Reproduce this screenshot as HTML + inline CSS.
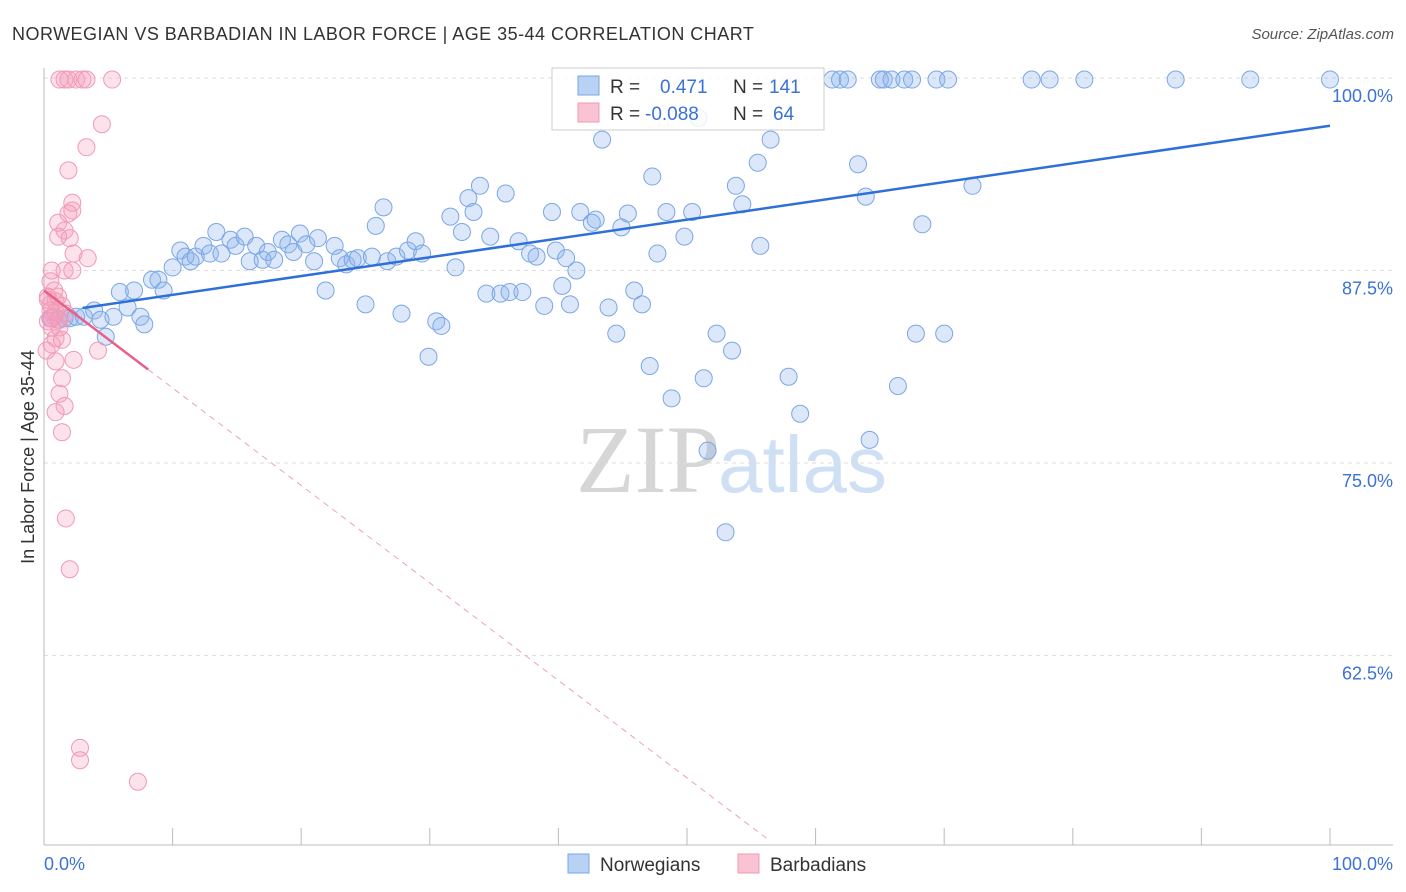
<!DOCTYPE html>
<html><head><meta charset="utf-8"><style>
body{margin:0;background:#fff;font-family:"Liberation Sans",sans-serif;}
#c{position:relative;width:1406px;height:892px;overflow:hidden;}
</style></head><body>
<div id="c">
<svg id="s" width="1406" height="892" xmlns="http://www.w3.org/2000/svg">
<text x="12" y="40" font-size="18" fill="#333" letter-spacing="0.47">NORWEGIAN VS BARBADIAN IN LABOR FORCE | AGE 35-44 CORRELATION CHART</text>
<text x="1394" y="39" font-size="15" fill="#555" font-style="italic" text-anchor="end">Source: ZipAtlas.com</text>
<text x="720" y="492" font-size="96" fill="#d6d6d6" text-anchor="end" font-family="Liberation Serif,serif">ZIP</text>
<text x="718" y="492" font-size="80" fill="#cfe0f4">atlas</text>
<text transform="translate(34,457) rotate(-90)" font-size="18" fill="#333" text-anchor="middle">In Labor Force | Age 35-44</text>
<g id="grid"></g><g id="ticks"></g><g id="marks"></g><g id="trend"></g>
<rect x="552" y="68" width="272" height="62" fill="#fff" fill-opacity="0.85" stroke="#ccc"/>
<rect x="578" y="76" width="21" height="19" fill="#b8d2f4" stroke="#7aa6e6"/>
<rect x="578" y="103" width="21" height="19" fill="#f9c3d3" stroke="#f09ab4"/>
<text x="610" y="93" font-size="19" fill="#333">R = <tspan x="660" fill="#3a72d6">0.471</tspan><tspan x="733">N = </tspan><tspan x="769" fill="#3a72d6">141</tspan></text>
<text x="610" y="120" font-size="19" fill="#333">R = <tspan x="645" fill="#3a72d6">-0.088</tspan><tspan x="733">N = </tspan><tspan x="773" fill="#3a72d6">64</tspan></text>
<rect x="568" y="854" width="21" height="19" fill="#b8d2f4" stroke="#7aa6e6"/>
<text x="600" y="871" font-size="19" fill="#333">Norwegians</text>
<rect x="738" y="854" width="21" height="19" fill="#f9c3d3" stroke="#f09ab4"/>
<text x="770" y="871" font-size="19" fill="#333">Barbadians</text>
</svg></div>
<script>
const blueX=[0.5,1.1,1.6,2.0,2.5,3.1,3.9,4.4,4.8,5.4,5.9,6.5,7.0,7.5,7.8,8.4,8.9,9.3,10.0,10.6,11.0,11.4,11.8,12.4,12.9,13.4,13.8,14.5,14.9,15.6,16.0,16.5,17.0,17.4,17.9,18.5,19.0,19.4,19.9,20.4,21.3,21.0,21.9,22.6,23.0,23.5,24.0,24.4,25.0,25.5,25.8,26.4,26.7,27.4,27.8,28.3,28.9,29.4,29.9,30.5,30.9,31.6,32.0,32.5,33.0,33.4,33.9,34.4,34.7,35.5,35.9,36.2,37.2,36.9,37.8,38.3,38.9,39.5,39.8,40.3,40.6,40.9,41.4,41.7,42.6,42.9,43.4,43.9,44.5,44.9,45.4,45.9,46.5,47.1,47.3,47.7,48.4,48.8,49.8,50.4,50.9,51.3,51.6,52.3,53.0,53.5,53.8,54.3,55.5,55.7,56.5,57.9,58.8,61.3,61.9,62.5,63.3,63.9,64.2,65.0,65.3,65.9,66.4,66.9,67.5,67.8,68.3,69.4,70.0,70.3,72.2,76.8,78.2,80.9,88.0,93.8,100];
const blueY=[84.4,84.3,84.4,84.4,84.5,84.5,84.9,84.3,83.2,84.5,86.1,85.1,86.2,84.5,84.0,86.9,86.9,86.2,87.7,88.8,88.4,88.1,88.4,89.1,88.6,90.0,88.6,89.5,89.1,89.7,88.1,89.1,88.2,88.7,88.2,89.5,89.2,88.7,89.9,89.2,89.6,88.1,86.2,89.1,88.3,87.9,88.2,88.3,85.3,88.4,90.4,91.6,88.1,88.4,84.7,88.8,89.4,88.6,81.9,84.2,83.9,91.0,87.7,90.0,92.2,91.3,93.0,86.0,89.7,86.0,92.5,86.1,86.1,89.4,88.6,88.4,85.2,91.3,88.8,86.5,88.3,85.3,87.5,91.3,90.6,90.8,96.0,85.1,83.4,90.3,91.2,86.2,85.3,81.3,93.6,88.6,91.3,79.2,89.7,91.3,97.4,80.5,75.8,83.4,70.5,82.3,93.0,91.8,94.5,89.1,96.0,80.6,78.2,99.9,99.9,99.9,94.4,92.3,76.5,99.9,99.9,99.9,80.0,99.9,99.9,83.4,90.5,99.9,83.4,99.9,93.0,99.9,99.9,99.9,99.9,99.9,99.9];
const pinkX=[1.2,1.6,1.9,2.5,3.0,3.3,5.3,4.5,3.3,1.9,2.2,2.2,1.9,1.1,1.6,2.0,1.1,3.4,2.3,0.6,1.6,2.2,0.5,0.8,0.3,0.9,1.4,0.5,0.8,1.2,1.7,0.3,0.6,0.9,1.4,2.3,4.2,0.9,1.4,1.2,1.6,0.9,1.4,1.7,2.0,2.8,2.8,7.3,0.2,0.6,0.3,0.9,1.2,0.6,0.5,1.1];
const pinkY=[99.9,99.9,99.9,99.9,99.9,99.9,99.9,97.0,95.5,94.0,91.9,91.4,91.2,90.6,90.1,89.6,89.7,88.3,88.6,87.5,87.5,87.5,86.8,86.2,85.8,85.5,85.2,84.9,84.5,84.3,84.7,84.2,83.8,83.1,83.0,81.7,82.3,81.6,80.5,79.5,78.7,78.3,77.0,71.4,68.1,56.5,55.7,54.3,82.3,82.7,85.6,84.8,83.8,84.4,85.3,85.8];
const blueTrend=[84.7,96.9];
const pinkTrend=[86.2,-0.633];
const yTicks=[100,87.5,75,62.5];
const yTickLabels=["100.0%","87.5%","75.0%","62.5%"];
const xTicks=[0,10,20,30,40,50,60,70,80,90,100];
const X=v=>44+v*12.86, Y=v=>78+(100-v)*15.4;
const NS="http://www.w3.org/2000/svg";
function mk(t,a,p){const e=document.createElementNS(NS,t);for(const k in a)e.setAttribute(k,a[k]);p.appendChild(e);return e;}
const g=document.getElementById('grid'),tk=document.getElementById('ticks'),m=document.getElementById('marks'),tr=document.getElementById('trend');
yTicks.forEach((v,i)=>{
 const l=mk('line',{x1:44,x2:1393,y1:Y(v),y2:Y(v),stroke:'#ddd','stroke-dasharray':'4,4'},g);
 
 
 const t=mk('text',{x:1393,y:Y(v)+24,'font-size':18,fill:'#3a72d6','text-anchor':'end'},tk);
 t.textContent=yTickLabels[i];
 
 
});
let a=mk('line',{x1:44,x2:44,y1:68,y2:845,stroke:'#bbb'},tk);


a=mk('line',{x1:44,x2:1393,y1:845,y2:845,stroke:'#bbb'},tk);


xTicks.forEach(v=>{
 const l=mk('line',{x1:X(v),x2:X(v),y1:828,y2:845,stroke:'#bbb'},tk);
 
 
});
let t=mk('text',{x:44,y:870,'font-size':18,fill:'#3a72d6'},tk);t.textContent='0.0%';


t=mk('text',{x:1393,y:870,'font-size':18,fill:'#3a72d6','text-anchor':'end'},tk);t.textContent='100.0%';


blueX.forEach((x,i)=>{
 const c=mk('circle',{cx:X(x),cy:Y(blueY[i]),r:8.5,fill:'rgba(140,180,235,0.3)',stroke:'#7aa6e6','stroke-width':1},m);
 
 
});
pinkX.forEach((x,i)=>{
 const c=mk('circle',{cx:X(x),cy:Y(pinkY[i]),r:8.5,fill:'rgba(245,160,190,0.3)',stroke:'#f09ab4','stroke-width':1},m);
 
 
});
let L=mk('line',{x1:X(3),y1:Y(blueTrend[0]+(blueTrend[1]-blueTrend[0])*0.03),x2:X(100),y2:Y(blueTrend[1]),stroke:'#2f6fd8','stroke-width':2.5},tr);


const pe=8.1,pd=56.2;
L=mk('line',{x1:X(0),y1:Y(pinkTrend[0]),x2:X(pe),y2:Y(pinkTrend[0]+pinkTrend[1]*pe),stroke:'#e8608a','stroke-width':2.5},tr);


L=mk('line',{x1:X(pe),y1:Y(pinkTrend[0]+pinkTrend[1]*pe),x2:X(pd),y2:Y(pinkTrend[0]+pinkTrend[1]*pd),stroke:'#f0a0b8','stroke-width':1,'stroke-dasharray':'6,5'},tr);


</script>
</body></html>
